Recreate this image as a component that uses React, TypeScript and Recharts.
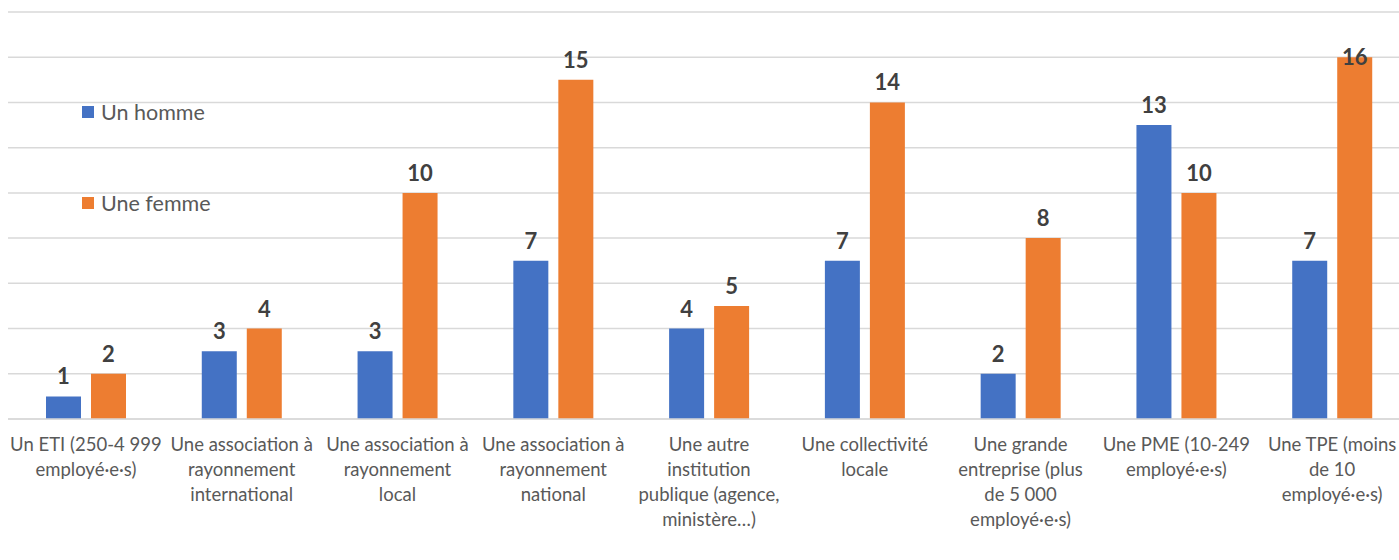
import React from "react";
import { BarChart, Bar, XAxis, YAxis, CartesianGrid, LabelList } from "recharts";

const categories: string[][] = [
  ["Un ETI (250-4 999", "employé·e·s)"],
  ["Une association à", "rayonnement", "international"],
  ["Une association à", "rayonnement", "local"],
  ["Une association à", "rayonnement", "national"],
  ["Une autre", "institution", "publique (agence,", "ministère…)"],
  ["Une collectivité", "locale"],
  ["Une grande", "entreprise (plus", "de 5 000", "employé·e·s)"],
  ["Une PME (10-249", "employé·e·s)"],
  ["Une TPE (moins", "de 10", "employé·e·s)"],
];
const homme: number[] = [1, 3, 3, 7, 4, 7, 2, 13, 7];
const femme: number[] = [2, 4, 10, 15, 5, 14, 8, 10, 16];
const yTicks: number[] = [0, 2, 4, 6, 8, 10, 12, 14, 16, 18];
const seriesNames: string[] = ["Un homme", "Une femme"];
const seriesColors: string[] = ["#4472C4", "#ED7D31"];

const data = categories.map((c, i) => ({ cat: i, homme: homme[i], femme: femme[i] }));

const FONT = "Lato, 'Open Sans', sans-serif";

const Tick = (props: any) => {
  const { x, y, payload } = props;
  const lines = categories[payload.value] || [];
  return (
    <text x={x} y={y + 24} textAnchor="middle" fill="#595959" fontSize={18.5} fontFamily={FONT}>
      {lines.map((l, i) => (
        <tspan key={i} x={x} dy={i === 0 ? 0 : 25}>{l}</tspan>
      ))}
    </text>
  );
};

const ValueLabel = (props: any) => {
  const { x, y, width, value } = props;
  const ly = Math.max(y - 12, 57);
  return (
    <text x={x + width / 2} y={ly} textAnchor="middle" fill="#404040" fontSize={22} fontWeight="bold" fontFamily={FONT}>
      {value}
    </text>
  );
};

export default function App() {
  return (
    <div style={{ width: 1399, height: 560, position: "relative", overflow: "hidden" }}>
      <style>{"html,body{margin:0;padding:0;overflow:hidden}"}</style>
      <div style={{ position: "absolute", left: 8, top: 8 }}>
        <BarChart
          width={1402}
          height={540}
          data={data}
          margin={{ top: 4, right: 0, bottom: 0, left: 0 }}
          barGap={10}
          barSize={35}
        >
          <CartesianGrid horizontal vertical={false} stroke="#D9D9D9" strokeWidth={1.5} />
          <XAxis
            dataKey="cat"
            tick={<Tick />}
            tickLine={false}
            axisLine={{ stroke: "#D9D9D9", strokeWidth: 1.5 }}
            height={129}
            interval={0}
          />
          <YAxis hide domain={[0, 18]} ticks={yTicks} />
          <Bar dataKey="homme" name={seriesNames[0]} fill={seriesColors[0]} isAnimationActive={false}>
            <LabelList dataKey="homme" content={<ValueLabel />} />
          </Bar>
          <Bar dataKey="femme" name={seriesNames[1]} fill={seriesColors[1]} isAnimationActive={false}>
            <LabelList dataKey="femme" content={<ValueLabel />} />
          </Bar>
        </BarChart>
      </div>
      <div style={{ position: "absolute", left: 82, top: 99, fontFamily: FONT }}>
        {seriesNames.map((n, i) => (
          <div key={i} style={{ display: "flex", alignItems: "center", height: 26, marginBottom: i === 0 ? 65 : 0 }}>
            <span style={{ width: 12, height: 12, background: seriesColors[i], display: "inline-block", marginRight: 7 }} />
            <span style={{ color: "#595959", fontSize: 21.5 }}>{n}</span>
          </div>
        ))}
      </div>
    </div>
  );
}
